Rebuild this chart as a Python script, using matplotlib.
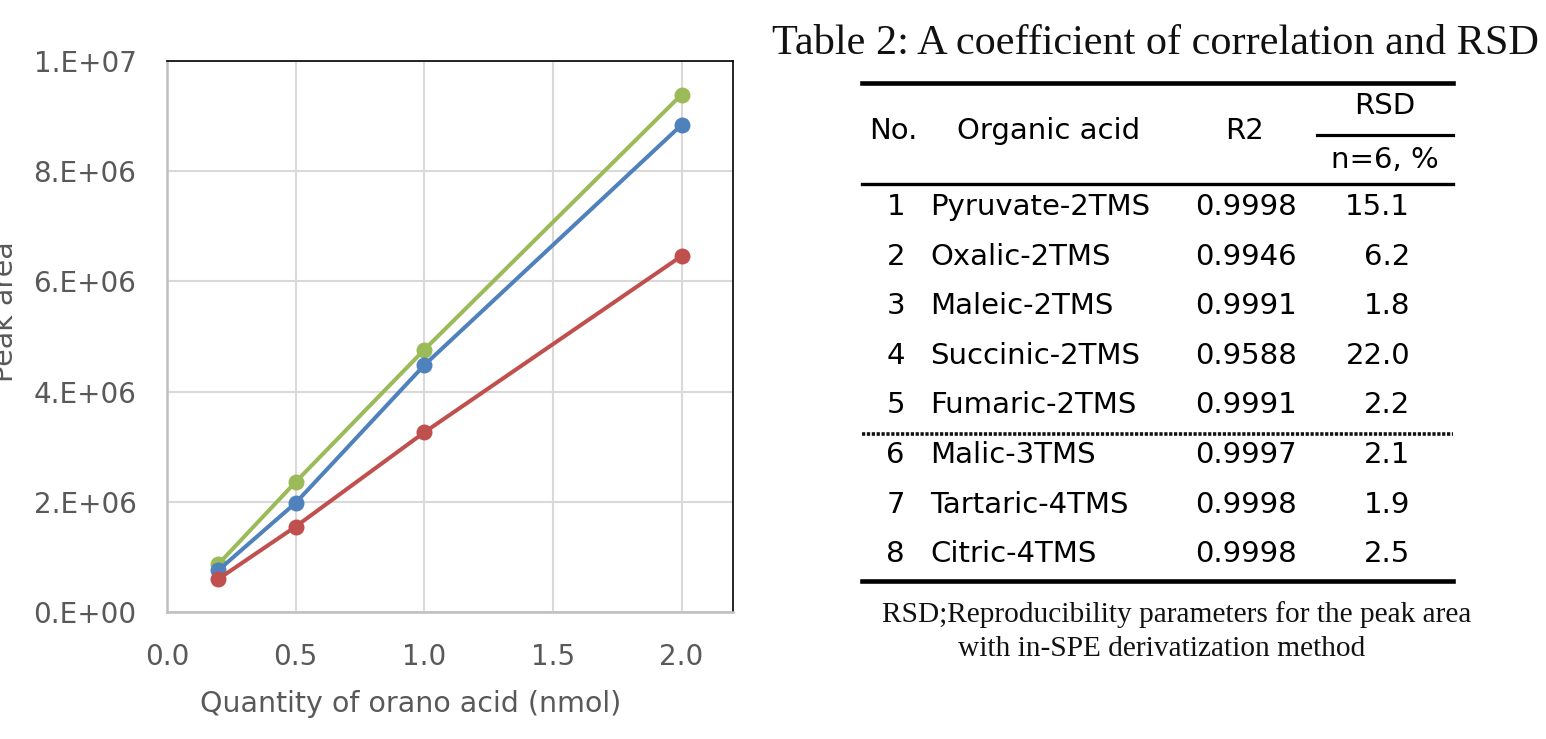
import matplotlib
matplotlib.use("Agg")
import matplotlib.pyplot as plt
from matplotlib.lines import Line2D

# ---- calibration data (peak area vs. quantity of organic acid) ----
quantity = [0.2, 0.5, 1.0, 2.0]
series_green = [0.87e6, 2.36e6, 4.76e6, 9.39e6]
series_blue = [0.76e6, 1.98e6, 4.48e6, 8.84e6]
series_red = [0.60e6, 1.55e6, 3.26e6, 6.46e6]

x_ticks = [0.0, 0.5, 1.0, 1.5, 2.0]
x_tick_labels = ["0.0", "0.5", "1.0", "1.5", "2.0"]
y_ticks = [0, 2e6, 4e6, 6e6, 8e6, 1e7]
y_tick_labels = ["0.E+00", "2.E+06", "4.E+06", "6.E+06", "8.E+06", "1.E+07"]

# ---- table data ----
table_title = "Table 2: A coefficient of correlation and RSD"
row_no = ["1", "2", "3", "4", "5", "6", "7", "8"]
acid_names = ["Pyruvate-2TMS", "Oxalic-2TMS", "Maleic-2TMS", "Succinic-2TMS",
              "Fumaric-2TMS", "Malic-3TMS", "Tartaric-4TMS", "Citric-4TMS"]
r2_values = ["0.9998", "0.9946", "0.9991", "0.9588",
             "0.9991", "0.9997", "0.9998", "0.9998"]
rsd_values = ["15.1", "6.2", "1.8", "22.0", "2.2", "2.1", "1.9", "2.5"]
footnote = ["RSD;Reproducibility parameters for the peak area",
            "with in-SPE derivatization method"]

W, H = 1546, 739
fig = plt.figure(figsize=(W / 100, H / 100), dpi=100)
fig.patch.set_facecolor("white")

# ---- line chart ----
ax = fig.add_axes([167 / W, 1 - 612 / H, (733 - 167) / W, (612 - 61) / H])
grey_txt = "#595959"
for vals, col, z in [(series_green, "#9BBB59", 3),
                     (series_blue, "#4F81BD", 4),
                     (series_red, "#C0504D", 5)]:
    ax.plot(quantity, vals, color=col, lw=2.9, marker="o", ms=11.5,
            markeredgewidth=0, zorder=z, solid_capstyle="round")

ax.set_xlim(0, 2.2)
ax.set_ylim(0, 1e7)
ax.set_xticks(x_ticks)
ax.set_xticklabels(x_tick_labels)
ax.set_yticks(y_ticks)
ax.set_yticklabels(y_tick_labels)
ax.tick_params(length=0, labelsize=20, labelcolor=grey_txt)
ax.tick_params(axis="y", pad=22)
ax.tick_params(axis="x", pad=22)
ax.grid(True, color="#D9D9D9", lw=1.5, zorder=0)
ax.set_axisbelow(True)
for side in ("left", "bottom"):
    ax.spines[side].set_color("#BFBFBF")
    ax.spines[side].set_linewidth(1.8)
for side in ("top", "right"):
    ax.spines[side].set_color("#000000")
    ax.spines[side].set_linewidth(1.2)

fig.text(411 / W, 1 - 704 / H, "Quantity of orano acid (nmol)", ha="center",
         va="center", fontsize=20.5, color=grey_txt)
fig.text(19 / W, 1 - 312 / H, "Peak area", ha="right", va="center",
         rotation=90, fontsize=20.5, color=grey_txt)

# ---- table drawn on an overlay in pixel coordinates ----
ov = fig.add_axes([0, 0, 1, 1])
ov.set_xlim(0, W)
ov.set_ylim(H, 0)
ov.axis("off")
ov.patch.set_alpha(0)

ov.text(772, 54, table_title, ha="left", va="baseline",
        fontfamily="Liberation Serif", fontsize=30.4, color="#111111")

tfs = 21
left_x, right_x = 862, 1453
ov.add_line(Line2D([left_x, right_x], [83, 83], color="black", lw=3.3))
ov.add_line(Line2D([1317, right_x], [135, 135], color="black", lw=2.3))
ov.add_line(Line2D([left_x, right_x], [184, 184], color="black", lw=2.4))
ov.add_line(Line2D([left_x, right_x], [434, 434], color="#111111", lw=2.6,
                   linestyle=(0, (0.9, 0.45))))
ov.add_line(Line2D([left_x, right_x], [581, 581], color="black", lw=3.3))

ov.text(893, 131, "No.", ha="center", va="center", fontsize=tfs)
ov.text(1049, 131, "Organic acid", ha="center", va="center", fontsize=tfs)
ov.text(1245, 131, "R2", ha="center", va="center", fontsize=tfs)
ov.text(1385, 106, "RSD", ha="center", va="center", fontsize=tfs)
ov.text(1385, 160, "n=6, %", ha="center", va="center", fontsize=tfs)

row_y0, row_step = 207, 49.6
for i, (n, name, r2, rsd) in enumerate(zip(row_no, acid_names, r2_values, rsd_values)):
    y = row_y0 + i * row_step
    ov.text(905, y, n, ha="right", va="center", fontsize=tfs)
    ov.text(930, y, name, ha="left", va="center", fontsize=tfs)
    ov.text(1246, y, r2, ha="center", va="center", fontsize=tfs)
    ov.text(1410, y, rsd, ha="right", va="center", fontsize=tfs)

ov.text(1177, 615, footnote[0], ha="center", va="center",
        fontfamily="Liberation Serif", fontsize=21.2, color="#111111")
ov.text(1162, 649, footnote[1], ha="center", va="center",
        fontfamily="Liberation Serif", fontsize=21.2, color="#111111")

fig.savefig("out.png", dpi=100, facecolor="white")
